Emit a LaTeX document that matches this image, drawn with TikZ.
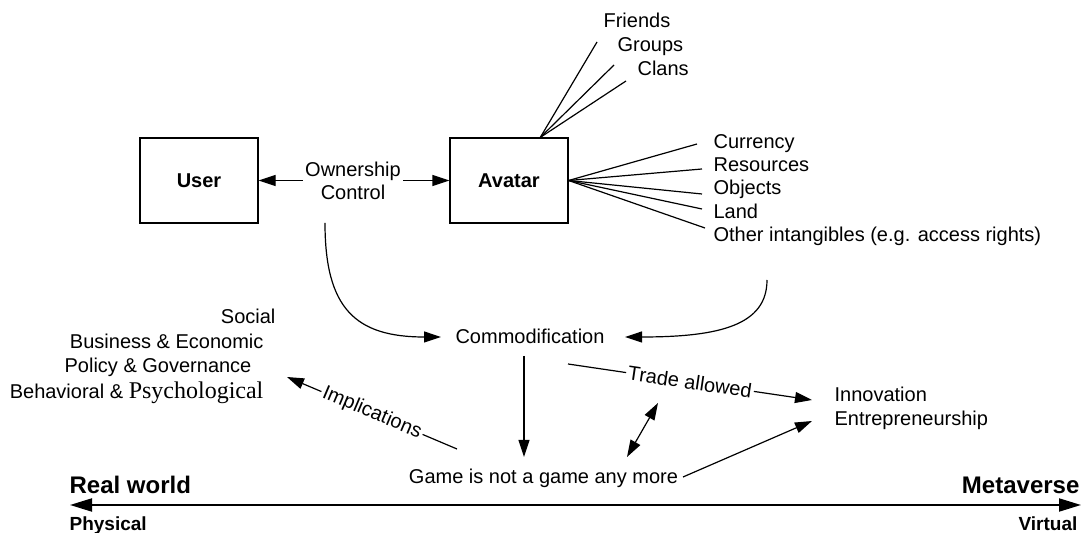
\documentclass[tikz,border=0pt]{standalone}
\usepackage{fontspec}
\setmainfont{Liberation Sans}
\newfontfamily\psyfont{Liberation Serif}
\usetikzlibrary{arrows.meta}
\tikzstyle{box}=[draw, minimum width=59pt, minimum height=42.5pt, inner sep=0pt, font=\bfseries]
\tikzstyle{txt}=[inner sep=0pt]
\tikzstyle{ray}=[draw]
\tikzstyle{edge}=[draw, -{Triangle[length=8.5pt,width=5.5pt]}]
\tikzstyle{both}=[draw, {Triangle[length=8.5pt,width=5.5pt]}-{Triangle[length=8.5pt,width=5.5pt]}]
\tikzstyle{axis}=[draw, line width=1pt, {Triangle[length=11pt,width=6.5pt]}-{Triangle[length=11pt,width=6.5pt]}]
\tikzstyle{big}=[inner sep=0pt, font=\bfseries\fontsize{12}{14}\selectfont]
\tikzstyle{small}=[inner sep=0pt, font=\bfseries\fontsize{9.5}{11}\selectfont]

\begin{document}
\begin{tikzpicture}[x=0.5pt, y=-0.5pt, line width=0.6pt, font=\fontsize{10}{11.5}\selectfont]

    \useasboundingbox (0,0) rectangle (1083,533);

    \node[box] (user) at (199,180.5) {User};
    \node[box] (avatar) at (509,180.5) {Avatar};
    \node[txt, align=center, inner sep=1pt] (own) at (353,180.5) {Ownership\\Control};
    \path[edge] (own.west) -- (user.east);
    \path[edge] (own.east) -- (avatar.west);

    % what the avatar has
    \foreach \name/\x/\y/\ex/\ey/\txt in {friends/603/28/597/42/Friends, groups/617/52/614/65/Groups, clans/637/76/626/81/Clans}
    {
        \node[txt, anchor=base west] (\name) at (\x,\y) {\txt};
        \coordinate (\name-in) at (\ex,\ey);
        \path[ray] (avatar.54) -- (\name-in);
    }
    \foreach \name/\y/\ex/\ey/\txt in {currency/149/697/144/Currency, resources/172/702/169/Resources, objects/195/702/194/Objects, land/219/702/209/Land, other/242/705/228/{Other intangibles (e.g. access rights)}}
    {
        \node[txt, anchor=base west] (\name) at (713,\y) {\txt};
        \coordinate (\name-in) at (\ex,\ey);
        \path[ray] (avatar.east) -- (\name-in);
    }

    \node[txt, anchor=base] (comm) at (530,344) {Commodification};
    \node[txt, anchor=base] (game) at (543.5,484) {Game is not a game any more};
    \node[txt, anchor=base west] (innov) at (834,402) {Innovation};
    \node[txt, anchor=base west] (entre) at (834,426) {Entrepreneurship};

    \foreach \name/\x/\y/\txt in {social/276/324/Social, business/264/349/{Business \& Economic}, policy/252/373/{Policy \& Governance}}
        \node[txt, anchor=base east] (\name) at (\x,\y) {\txt};
    \node[txt, anchor=base east] (behav) at (264,399) {Behavioral \& {\psyfont\fontsize{12}{14}\selectfont Psychological}};

    \coordinate (ownout) at (325,223);
    \coordinate (commleft) at (441,337);
    \coordinate (assetout) at (767,280);
    \coordinate (commright) at (625,337);
    \path[edge] (ownout) .. controls (325,308) and (355,337) .. (commleft);
    \path[edge] (assetout) .. controls (767,325) and (720,337) .. (commright);

    \path[edge, shorten <=5.5pt, shorten >=6pt] ([xshift=-3pt]comm.south) -- ([xshift=-3pt]comm.south |- game.north);

    \coordinate (implout) at (457,449);
    \coordinate (implin) at (287,377);
    \path[edge] (implout) -- node[txt, sloped, fill=white, inner xsep=1pt] {Implications} (implin);

    \coordinate (tradeout) at (568,364);
    \coordinate (innovin) at (812,400);
    \path[edge] (tradeout) -- node[txt, sloped, fill=white, inner xsep=1pt] {Trade allowed} (innovin);

    \coordinate (gamein) at (627,457);
    \coordinate (tradein) at (658,403);
    \path[both] (gamein) -- (tradein);

    \coordinate (gameout) at (683,477);
    \coordinate (entrein) at (812,421);
    \path[edge] (gameout) -- (entrein);

    % real world to metaverse
    \coordinate (left) at (70,505);
    \coordinate (right) at (1081,505);
    \path[axis] (left) -- (right);
    \node[big, anchor=base west] (real) at (69,494) {Real world};
    \node[big, anchor=base east] (meta) at (1080,494) {Metaverse};
    \node[small, anchor=base west] (phys) at (69,531) {Physical};
    \node[small, anchor=base east] (virt) at (1078,531) {Virtual};

\end{tikzpicture}
\end{document}
